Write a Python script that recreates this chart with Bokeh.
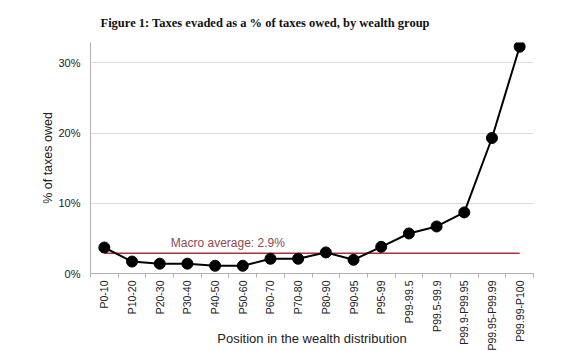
import math
from bokeh.plotting import figure
from bokeh.models import FixedTicker, PrintfTickFormatter, Range1d, Label, Title
from bokeh.embed import file_html
from bokeh.resources import INLINE

groups = ["P0-10", "P10-20", "P20-30", "P30-40", "P40-50", "P50-60", "P60-70", "P70-80",
          "P80-90", "P90-95", "P95-99", "P99-99.5", "P99.5-99.9", "P99.9-P99.95",
          "P99.95-P99.99", "P99.99-P100"]
evaded_pct = [3.7, 1.7, 1.4, 1.4, 1.1, 1.1, 2.1, 2.1, 3.0, 1.95, 3.8, 5.7, 6.7, 8.7, 19.3, 32.3]
macro_avg = 2.9
y_ticks = [0, 10, 20, 30]

xs = list(range(len(groups)))

p = figure(width=583, height=351, output_backend="svg", toolbar_location=None,
           x_range=Range1d(-0.5, len(groups) - 0.5), y_range=Range1d(0, 32.9),
           min_border_left=90, min_border_right=50, min_border_top=0, min_border_bottom=78)
p.title = Title(text="Figure 1: Taxes evaded as a % of taxes owed, by wealth group",
                text_font="Liberation Serif", text_font_size="12.5px", text_font_style="bold",
                align="left", offset=10, text_color="#111111", standoff=26)
p.outline_line_color = None
p.background_fill_color = "white"
p.border_fill_color = "white"

# macro average line
p.line([xs[0], xs[-1]], [macro_avg, macro_avg], line_color="#a8353a", line_width=1.5)
p.add_layout(Label(x=2.4, y=macro_avg + 0.5, text=f"Macro average: {macro_avg}%",
                   text_font="Liberation Sans", text_font_size="12px", text_color="#8e4a50"))

p.line(xs, evaded_pct, line_color="black", line_width=2)
p.scatter(xs, evaded_pct, size=11, fill_color="black", line_color="black")

# x axis
xa = p.xaxis[0]
xa.ticker = FixedTicker(ticks=xs, minor_ticks=[i - 0.5 for i in range(len(groups) + 1)])
xa.major_label_overrides = {i: g for i, g in enumerate(groups)}
xa.major_label_orientation = math.pi / 2
xa.major_tick_out = 0
xa.major_tick_in = 0
xa.minor_tick_out = 4
xa.minor_tick_in = 0
xa.minor_tick_line_color = "#b0b0b0"
xa.axis_line_color = "#b0b0b0"
xa.major_label_text_font = "Liberation Sans"
xa.major_label_text_font_size = "10.5px"
xa.major_label_text_color = "#222222"
xa.major_label_standoff = 3
xa.axis_label = "Position in the wealth distribution"
xa.axis_label_text_font = "Liberation Sans"
xa.axis_label_text_font_size = "13px"
xa.axis_label_text_font_style = "normal"
xa.axis_label_text_color = "#222222"
xa.axis_label_standoff = -23

ya = p.yaxis[0]
ya.ticker = FixedTicker(ticks=y_ticks)
ya.formatter = PrintfTickFormatter(format="%d%%")
ya.major_tick_out = 0
ya.major_tick_in = 0
ya.minor_tick_out = 0
ya.minor_tick_in = 0
ya.axis_line_color = "#b0b0b0"
ya.major_label_text_font = "Liberation Sans"
ya.major_label_text_font_size = "11px"
ya.major_label_text_color = "#222222"
ya.major_label_standoff = 10
ya.axis_label = "% of taxes owed"
ya.axis_label_text_font = "Liberation Sans"
ya.axis_label_text_font_size = "12.5px"
ya.axis_label_text_font_style = "normal"
ya.axis_label_text_color = "#222222"
ya.axis_label_standoff = 0

p.xgrid.grid_line_color = None
p.ygrid.grid_line_color = "#dcdcdc"
p.ygrid.ticker = FixedTicker(ticks=[10, 20, 30])

open("out.html", "w").write(file_html(p, INLINE))
